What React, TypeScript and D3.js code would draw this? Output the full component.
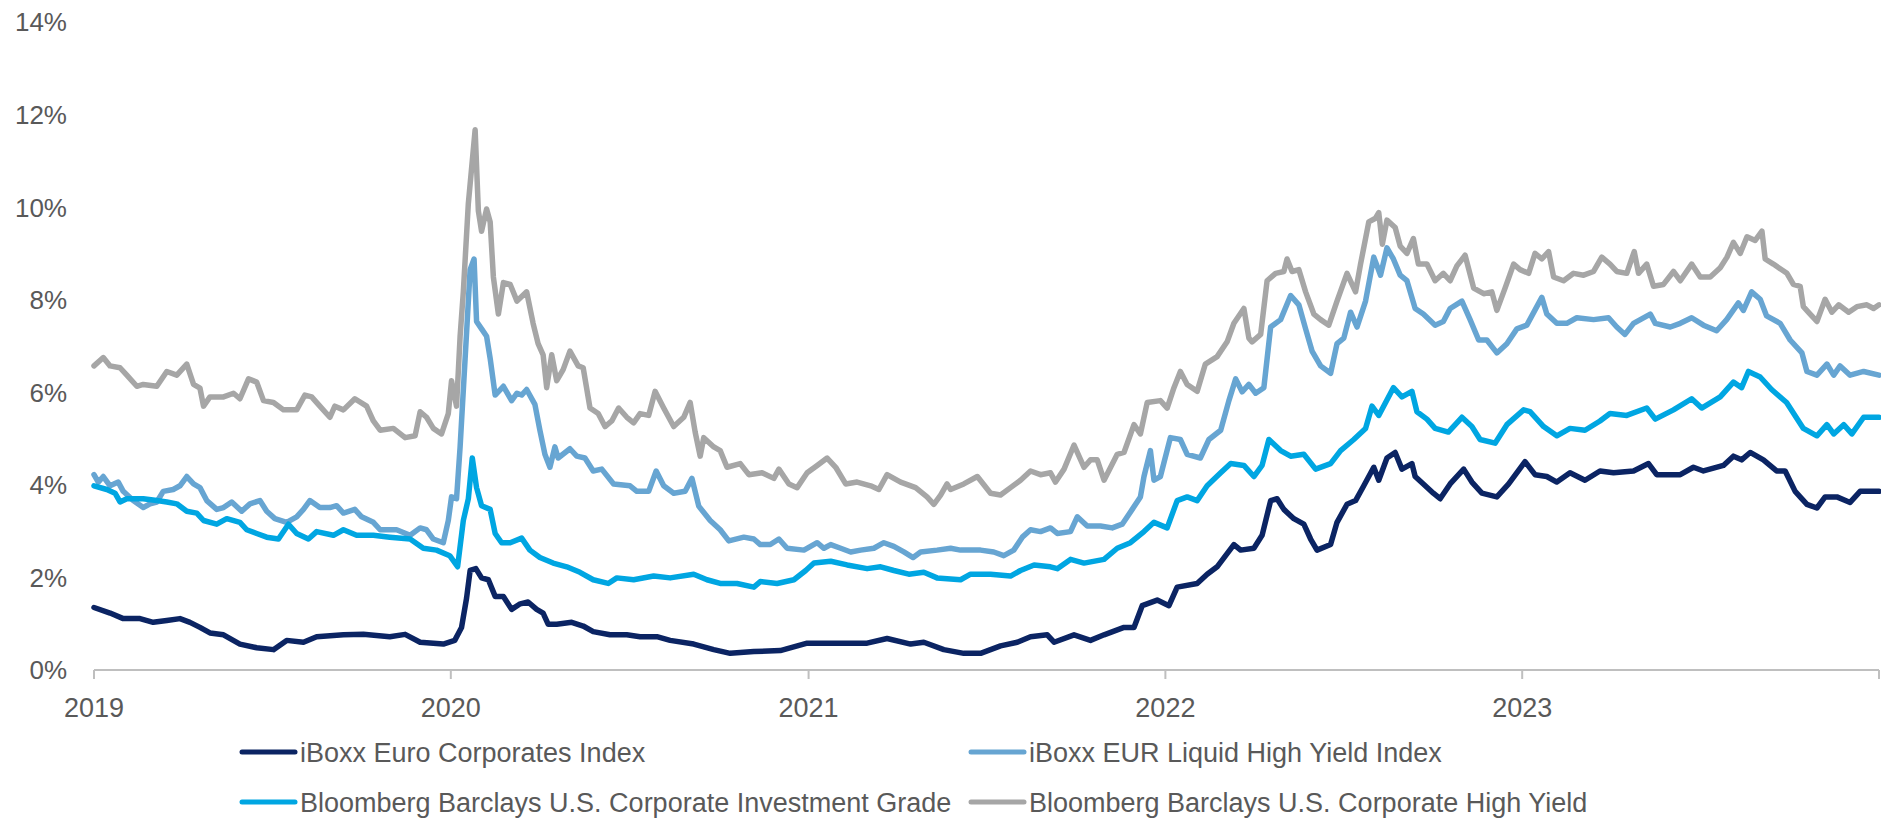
import React, { useEffect, useRef } from "react";
import * as d3 from "d3";

// values are [decimal year, yield %]
const euroCorp: [number, number][] = [
  [2019.0, 1.35], [2019.045, 1.23], [2019.082, 1.11], [2019.129, 1.11], [2019.166, 1.03], [2019.204, 1.07],
  [2019.241, 1.11], [2019.269, 1.03], [2019.297, 0.92], [2019.325, 0.8], [2019.363, 0.76], [2019.409, 0.56],
  [2019.456, 0.48], [2019.503, 0.44], [2019.54, 0.64], [2019.587, 0.6], [2019.624, 0.72], [2019.699, 0.76],
  [2019.755, 0.77], [2019.829, 0.72], [2019.872, 0.77], [2019.914, 0.6], [2019.979, 0.56], [2020.011, 0.64],
  [2020.03, 0.92], [2020.044, 1.55], [2020.054, 2.15], [2020.07, 2.19], [2020.086, 1.99], [2020.105, 1.95],
  [2020.124, 1.59], [2020.147, 1.59], [2020.17, 1.31], [2020.194, 1.43], [2020.216, 1.47], [2020.24, 1.31],
  [2020.258, 1.23], [2020.272, 0.99], [2020.296, 0.99], [2020.338, 1.03], [2020.37, 0.95], [2020.398, 0.83],
  [2020.445, 0.76], [2020.492, 0.76], [2020.529, 0.72], [2020.576, 0.72], [2020.613, 0.64], [2020.679, 0.56],
  [2020.735, 0.44], [2020.781, 0.36], [2020.847, 0.4], [2020.921, 0.42], [2020.996, 0.58], [2021.08, 0.58],
  [2021.164, 0.58], [2021.22, 0.68], [2021.286, 0.56], [2021.323, 0.6], [2021.379, 0.44], [2021.435, 0.36],
  [2021.482, 0.36], [2021.538, 0.52], [2021.585, 0.6], [2021.622, 0.72], [2021.669, 0.76], [2021.688, 0.6],
  [2021.744, 0.76], [2021.79, 0.64], [2021.828, 0.76], [2021.884, 0.92], [2021.912, 0.92], [2021.935, 1.39],
  [2021.977, 1.51], [2022.01, 1.39], [2022.033, 1.79], [2022.089, 1.87], [2022.117, 2.07], [2022.145, 2.23],
  [2022.192, 2.71], [2022.211, 2.59], [2022.248, 2.63], [2022.271, 2.91], [2022.295, 3.66], [2022.313, 3.7],
  [2022.332, 3.47], [2022.36, 3.27], [2022.388, 3.15], [2022.407, 2.83], [2022.425, 2.59], [2022.463, 2.71],
  [2022.481, 3.19], [2022.509, 3.58], [2022.533, 3.66], [2022.556, 3.98], [2022.584, 4.38], [2022.598, 4.1],
  [2022.621, 4.58], [2022.644, 4.7], [2022.663, 4.34], [2022.691, 4.46], [2022.7, 4.18], [2022.723, 4.02],
  [2022.751, 3.82], [2022.77, 3.7], [2022.798, 4.02], [2022.836, 4.34], [2022.859, 4.06], [2022.887, 3.82],
  [2022.929, 3.74], [2022.962, 4.02], [2023.008, 4.5], [2023.036, 4.22], [2023.069, 4.18], [2023.097, 4.06],
  [2023.134, 4.26], [2023.176, 4.1], [2023.218, 4.3], [2023.256, 4.26], [2023.312, 4.3], [2023.354, 4.46],
  [2023.377, 4.22], [2023.443, 4.22], [2023.48, 4.38], [2023.508, 4.3], [2023.564, 4.42], [2023.592, 4.62],
  [2023.615, 4.54], [2023.639, 4.7], [2023.676, 4.54], [2023.713, 4.3], [2023.737, 4.3], [2023.765, 3.86],
  [2023.798, 3.58], [2023.826, 3.5], [2023.849, 3.74], [2023.882, 3.74], [2023.919, 3.62], [2023.947, 3.86],
  [2024.0, 3.86],
];

const eurHighYield: [number, number][] = [
  [2019.0, 4.22], [2019.012, 4.06], [2019.026, 4.18], [2019.045, 3.98], [2019.068, 4.06], [2019.082, 3.86],
  [2019.11, 3.66], [2019.138, 3.51], [2019.157, 3.59], [2019.176, 3.63], [2019.194, 3.86], [2019.222, 3.9],
  [2019.241, 3.98], [2019.26, 4.18], [2019.279, 4.02], [2019.297, 3.94], [2019.316, 3.66], [2019.344, 3.47],
  [2019.363, 3.51], [2019.386, 3.63], [2019.414, 3.43], [2019.437, 3.59], [2019.465, 3.66], [2019.484, 3.43],
  [2019.507, 3.27], [2019.54, 3.19], [2019.568, 3.31], [2019.587, 3.47], [2019.605, 3.66], [2019.633, 3.51],
  [2019.661, 3.51], [2019.68, 3.55], [2019.699, 3.39], [2019.731, 3.47], [2019.75, 3.31], [2019.783, 3.19],
  [2019.802, 3.03], [2019.848, 3.03], [2019.886, 2.91], [2019.914, 3.07], [2019.932, 3.03], [2019.951, 2.83],
  [2019.979, 2.75], [2019.993, 3.23], [2020.002, 3.74], [2020.016, 3.7], [2020.026, 4.82], [2020.04, 6.73],
  [2020.054, 8.65], [2020.065, 8.88], [2020.072, 7.53], [2020.086, 7.37], [2020.1, 7.21], [2020.11, 6.73],
  [2020.124, 5.94], [2020.147, 6.13], [2020.17, 5.82], [2020.185, 5.98], [2020.198, 5.94], [2020.212, 6.06],
  [2020.235, 5.74], [2020.249, 5.18], [2020.263, 4.66], [2020.277, 4.38], [2020.291, 4.82], [2020.3, 4.58],
  [2020.333, 4.78], [2020.352, 4.62], [2020.375, 4.58], [2020.398, 4.3], [2020.422, 4.34], [2020.455, 4.02],
  [2020.501, 3.98], [2020.52, 3.86], [2020.553, 3.86], [2020.574, 4.3], [2020.595, 3.98], [2020.623, 3.82],
  [2020.655, 3.86], [2020.674, 4.14], [2020.693, 3.54], [2020.725, 3.23], [2020.753, 3.03], [2020.777, 2.79],
  [2020.819, 2.87], [2020.847, 2.83], [2020.865, 2.71], [2020.893, 2.71], [2020.917, 2.83], [2020.94, 2.63],
  [2020.987, 2.59], [2021.024, 2.75], [2021.043, 2.63], [2021.062, 2.71], [2021.09, 2.63], [2021.118, 2.55],
  [2021.146, 2.59], [2021.183, 2.63], [2021.211, 2.75], [2021.239, 2.67], [2021.267, 2.55], [2021.293, 2.43],
  [2021.314, 2.55], [2021.36, 2.59], [2021.398, 2.63], [2021.426, 2.59], [2021.482, 2.59], [2021.519, 2.55],
  [2021.547, 2.47], [2021.575, 2.59], [2021.599, 2.87], [2021.622, 3.03], [2021.65, 2.99], [2021.678, 3.07],
  [2021.697, 2.95], [2021.734, 2.99], [2021.753, 3.31], [2021.781, 3.11], [2021.818, 3.11], [2021.851, 3.07],
  [2021.879, 3.15], [2021.907, 3.47], [2021.93, 3.74], [2021.94, 4.18], [2021.958, 4.74], [2021.968, 4.1],
  [2021.986, 4.18], [2022.014, 5.02], [2022.042, 4.98], [2022.061, 4.66], [2022.098, 4.58], [2022.122, 4.98],
  [2022.155, 5.18], [2022.178, 5.82], [2022.197, 6.29], [2022.215, 6.01], [2022.234, 6.17], [2022.253, 5.98],
  [2022.276, 6.1], [2022.295, 7.41], [2022.323, 7.57], [2022.351, 8.09], [2022.374, 7.89], [2022.393, 7.37],
  [2022.411, 6.89], [2022.435, 6.57], [2022.463, 6.41], [2022.481, 7.05], [2022.5, 7.17], [2022.519, 7.73],
  [2022.537, 7.41], [2022.561, 7.97], [2022.584, 8.92], [2022.603, 8.53], [2022.621, 9.12], [2022.639, 8.88],
  [2022.658, 8.53], [2022.677, 8.41], [2022.7, 7.81], [2022.723, 7.69], [2022.756, 7.45], [2022.779, 7.53],
  [2022.798, 7.81], [2022.831, 7.97], [2022.854, 7.57], [2022.878, 7.13], [2022.901, 7.13], [2022.929, 6.85],
  [2022.957, 7.05], [2022.985, 7.37], [2023.013, 7.45], [2023.055, 8.05], [2023.069, 7.69], [2023.097, 7.49],
  [2023.125, 7.49], [2023.153, 7.61], [2023.2, 7.57], [2023.242, 7.61], [2023.265, 7.41], [2023.288, 7.25],
  [2023.312, 7.49], [2023.359, 7.69], [2023.373, 7.49], [2023.415, 7.41], [2023.443, 7.49], [2023.475, 7.61],
  [2023.508, 7.45], [2023.545, 7.33], [2023.573, 7.57], [2023.606, 7.93], [2023.62, 7.77], [2023.643, 8.17],
  [2023.667, 8.01], [2023.685, 7.65], [2023.723, 7.49], [2023.751, 7.13], [2023.784, 6.85], [2023.798, 6.45],
  [2023.826, 6.37], [2023.854, 6.61], [2023.873, 6.37], [2023.891, 6.57], [2023.919, 6.37], [2023.957, 6.45],
  [2024.0, 6.37],
];

const usInvestmentGrade: [number, number][] = [
  [2019.0, 3.98], [2019.036, 3.9], [2019.059, 3.82], [2019.073, 3.63], [2019.092, 3.7], [2019.138, 3.7],
  [2019.176, 3.66], [2019.204, 3.63], [2019.232, 3.59], [2019.26, 3.43], [2019.288, 3.39], [2019.307, 3.23],
  [2019.344, 3.15], [2019.372, 3.27], [2019.409, 3.19], [2019.428, 3.03], [2019.456, 2.95], [2019.484, 2.87],
  [2019.517, 2.83], [2019.545, 3.15], [2019.568, 2.95], [2019.601, 2.83], [2019.624, 2.99], [2019.671, 2.91],
  [2019.699, 3.03], [2019.736, 2.91], [2019.783, 2.91], [2019.829, 2.87], [2019.886, 2.83], [2019.923, 2.63],
  [2019.96, 2.59], [2019.997, 2.47], [2020.019, 2.23], [2020.035, 3.23], [2020.049, 3.7], [2020.06, 4.58],
  [2020.072, 3.94], [2020.086, 3.55], [2020.11, 3.47], [2020.124, 2.95], [2020.142, 2.75], [2020.166, 2.75],
  [2020.198, 2.85], [2020.221, 2.59], [2020.249, 2.43], [2020.286, 2.31], [2020.324, 2.23], [2020.361, 2.11],
  [2020.398, 1.95], [2020.44, 1.87], [2020.464, 1.99], [2020.511, 1.95], [2020.567, 2.03], [2020.613, 1.99],
  [2020.679, 2.07], [2020.716, 1.95], [2020.753, 1.87], [2020.8, 1.87], [2020.847, 1.79], [2020.865, 1.91],
  [2020.912, 1.87], [2020.959, 1.95], [2020.992, 2.15], [2021.015, 2.31], [2021.062, 2.35], [2021.108, 2.27],
  [2021.164, 2.19], [2021.202, 2.23], [2021.239, 2.15], [2021.281, 2.07], [2021.323, 2.11], [2021.36, 1.99],
  [2021.426, 1.95], [2021.454, 2.07], [2021.51, 2.07], [2021.566, 2.03], [2021.594, 2.15], [2021.632, 2.27],
  [2021.678, 2.23], [2021.697, 2.19], [2021.734, 2.39], [2021.772, 2.31], [2021.828, 2.39], [2021.865, 2.63],
  [2021.902, 2.75], [2021.94, 2.99], [2021.968, 3.19], [2022.005, 3.07], [2022.033, 3.66], [2022.061, 3.74],
  [2022.089, 3.66], [2022.117, 3.98], [2022.155, 4.26], [2022.183, 4.46], [2022.22, 4.42], [2022.248, 4.18],
  [2022.271, 4.42], [2022.29, 4.98], [2022.323, 4.74], [2022.351, 4.62], [2022.388, 4.66], [2022.421, 4.34],
  [2022.463, 4.46], [2022.491, 4.74], [2022.528, 4.98], [2022.561, 5.22], [2022.579, 5.7], [2022.598, 5.5],
  [2022.639, 6.1], [2022.663, 5.9], [2022.691, 6.02], [2022.705, 5.58], [2022.733, 5.42], [2022.756, 5.22],
  [2022.793, 5.14], [2022.831, 5.46], [2022.859, 5.26], [2022.882, 4.98], [2022.924, 4.9], [2022.957, 5.3],
  [2023.004, 5.62], [2023.022, 5.58], [2023.06, 5.26], [2023.097, 5.06], [2023.134, 5.22], [2023.176, 5.18],
  [2023.218, 5.38], [2023.246, 5.54], [2023.293, 5.5], [2023.349, 5.66], [2023.373, 5.42], [2023.424, 5.62],
  [2023.475, 5.86], [2023.503, 5.66], [2023.555, 5.9], [2023.592, 6.22], [2023.615, 6.1], [2023.634, 6.45],
  [2023.667, 6.33], [2023.699, 6.06], [2023.741, 5.78], [2023.788, 5.22], [2023.826, 5.06], [2023.854, 5.3],
  [2023.873, 5.1], [2023.901, 5.3], [2023.924, 5.1], [2023.957, 5.46], [2024.0, 5.46],
];

const usHighYield: [number, number][] = [
  [2019.0, 6.57], [2019.026, 6.75], [2019.045, 6.57], [2019.073, 6.53], [2019.092, 6.37], [2019.12, 6.13],
  [2019.138, 6.17], [2019.176, 6.13], [2019.204, 6.45], [2019.232, 6.37], [2019.26, 6.61], [2019.279, 6.17],
  [2019.297, 6.09], [2019.307, 5.7], [2019.325, 5.9], [2019.363, 5.9], [2019.391, 5.98], [2019.409, 5.86],
  [2019.433, 6.29], [2019.456, 6.22], [2019.475, 5.82], [2019.503, 5.78], [2019.531, 5.62], [2019.568, 5.62],
  [2019.591, 5.94], [2019.61, 5.9], [2019.633, 5.7], [2019.661, 5.46], [2019.675, 5.7], [2019.699, 5.62],
  [2019.731, 5.86], [2019.764, 5.7], [2019.783, 5.38], [2019.802, 5.18], [2019.839, 5.22], [2019.872, 5.02],
  [2019.9, 5.06], [2019.914, 5.58], [2019.932, 5.46], [2019.951, 5.22], [2019.974, 5.1], [2019.993, 5.54],
  [2020.002, 6.25], [2020.016, 5.7], [2020.026, 7.21], [2020.035, 8.17], [2020.049, 10.08], [2020.068, 11.67],
  [2020.077, 9.92], [2020.086, 9.48], [2020.1, 9.96], [2020.11, 9.68], [2020.119, 8.49], [2020.133, 7.69],
  [2020.147, 8.37], [2020.166, 8.33], [2020.185, 7.97], [2020.212, 8.17], [2020.23, 7.49], [2020.244, 7.05],
  [2020.258, 6.81], [2020.268, 6.1], [2020.282, 6.81], [2020.296, 6.25], [2020.314, 6.49], [2020.333, 6.89],
  [2020.356, 6.57], [2020.37, 6.53], [2020.389, 5.66], [2020.412, 5.54], [2020.431, 5.26], [2020.45, 5.38],
  [2020.469, 5.66], [2020.492, 5.46], [2020.511, 5.34], [2020.529, 5.54], [2020.553, 5.5], [2020.571, 6.02],
  [2020.595, 5.66], [2020.623, 5.26], [2020.651, 5.46], [2020.669, 5.78], [2020.683, 5.14], [2020.697, 4.62],
  [2020.707, 5.02], [2020.735, 4.82], [2020.753, 4.74], [2020.772, 4.38], [2020.809, 4.46], [2020.833, 4.22],
  [2020.87, 4.26], [2020.903, 4.14], [2020.917, 4.34], [2020.945, 4.02], [2020.968, 3.94], [2020.996, 4.26],
  [2021.024, 4.42], [2021.052, 4.58], [2021.076, 4.38], [2021.104, 4.02], [2021.136, 4.06], [2021.174, 3.98],
  [2021.197, 3.9], [2021.22, 4.22], [2021.258, 4.06], [2021.3, 3.94], [2021.332, 3.74], [2021.351, 3.58],
  [2021.37, 3.78], [2021.388, 4.02], [2021.398, 3.9], [2021.435, 4.02], [2021.473, 4.18], [2021.51, 3.82],
  [2021.538, 3.78], [2021.566, 3.94], [2021.594, 4.1], [2021.622, 4.3], [2021.65, 4.22], [2021.678, 4.26],
  [2021.692, 4.06], [2021.716, 4.34], [2021.744, 4.86], [2021.772, 4.38], [2021.79, 4.54], [2021.809, 4.54],
  [2021.828, 4.1], [2021.865, 4.66], [2021.884, 4.7], [2021.912, 5.3], [2021.93, 5.1], [2021.949, 5.78],
  [2021.986, 5.82], [2022.005, 5.66], [2022.024, 6.1], [2022.042, 6.45], [2022.061, 6.17], [2022.089, 6.02],
  [2022.112, 6.61], [2022.145, 6.77], [2022.173, 7.09], [2022.192, 7.49], [2022.22, 7.81], [2022.234, 7.17],
  [2022.243, 7.09], [2022.267, 7.25], [2022.285, 8.41], [2022.309, 8.57], [2022.332, 8.61], [2022.341, 8.88],
  [2022.355, 8.61], [2022.374, 8.65], [2022.393, 8.17], [2022.416, 7.69], [2022.435, 7.57], [2022.458, 7.45],
  [2022.481, 7.97], [2022.509, 8.57], [2022.533, 8.17], [2022.547, 8.77], [2022.57, 9.68], [2022.589, 9.76],
  [2022.598, 9.88], [2022.608, 9.2], [2022.621, 9.72], [2022.644, 9.56], [2022.658, 9.16], [2022.677, 9.0],
  [2022.695, 9.32], [2022.709, 8.77], [2022.733, 8.77], [2022.756, 8.41], [2022.779, 8.57], [2022.798, 8.41],
  [2022.817, 8.73], [2022.84, 8.96], [2022.864, 8.25], [2022.892, 8.13], [2022.915, 8.17], [2022.929, 7.77],
  [2022.952, 8.25], [2022.976, 8.77], [2022.994, 8.65], [2023.018, 8.57], [2023.036, 9.0], [2023.055, 8.88],
  [2023.074, 9.04], [2023.088, 8.49], [2023.116, 8.41], [2023.144, 8.57], [2023.172, 8.53], [2023.2, 8.61],
  [2023.223, 8.92], [2023.246, 8.77], [2023.265, 8.61], [2023.293, 8.57], [2023.314, 9.04], [2023.326, 8.57],
  [2023.349, 8.77], [2023.368, 8.29], [2023.396, 8.33], [2023.424, 8.61], [2023.443, 8.41], [2023.475, 8.77],
  [2023.499, 8.49], [2023.527, 8.49], [2023.555, 8.69], [2023.574, 8.92], [2023.592, 9.24], [2023.611, 9.0],
  [2023.63, 9.36], [2023.653, 9.28], [2023.672, 9.48], [2023.681, 8.88], [2023.704, 8.77], [2023.742, 8.57],
  [2023.76, 8.33], [2023.779, 8.29], [2023.788, 7.85], [2023.807, 7.69], [2023.826, 7.53], [2023.849, 8.01],
  [2023.868, 7.73], [2023.887, 7.89], [2023.915, 7.73], [2023.938, 7.85], [2023.966, 7.89], [2023.985, 7.81],
  [2024.0, 7.89],
];

const seriesNames = [
  "iBoxx Euro Corporates Index",
  "iBoxx EUR Liquid High Yield Index",
  "Bloomberg Barclays U.S. Corporate Investment Grade",
  "Bloomberg Barclays U.S. Corporate High Yield",
];
const seriesColors = ["#0b2463", "#67a5d2", "#00a6e2", "#a6a6a6"];
const seriesData = [euroCorp, eurHighYield, usInvestmentGrade, usHighYield];

const yTicks = [0, 2, 4, 6, 8, 10, 12, 14];
const xTickYears = [2019, 2020, 2021, 2022, 2023];

const FONT = "'Liberation Sans', Arial, sans-serif";
const TEXT = "#595959";

function toDate(t: number) {
  const y = Math.floor(t);
  const a = new Date(y, 0, 1).getTime();
  const b = new Date(y + 1, 0, 1).getTime();
  return new Date(a + (t - y) * (b - a));
}

export default function App() {
  const svgRef = useRef<SVGSVGElement>(null);

  useEffect(() => {
    const width = 1881;
    const height = 819;
    const margin = { top: 22, right: 2, bottom: 149, left: 94 };

    const svg = d3.select(svgRef.current);
    svg.selectAll("*").remove();
    svg.attr("width", width).attr("height", height);

    const x = d3
      .scaleTime()
      .domain([new Date(2019, 0, 1), new Date(2024, 0, 1)])
      .range([margin.left, width - margin.right]);

    const y = d3
      .scaleLinear()
      .domain([0, 14])
      .range([height - margin.bottom, margin.top]);

    // y labels
    svg
      .append("g")
      .selectAll("text")
      .data(yTicks)
      .enter()
      .append("text")
      .attr("x", 67)
      .attr("y", (d) => y(d))
      .attr("dy", "0.36em")
      .attr("text-anchor", "end")
      .attr("font-family", FONT)
      .attr("font-size", 26)
      .attr("fill", TEXT)
      .text((d) => `${d}%`);

    // x axis line and ticks
    const axisY = y(0);
    svg
      .append("line")
      .attr("x1", x.range()[0])
      .attr("x2", x.range()[1])
      .attr("y1", axisY)
      .attr("y2", axisY)
      .attr("stroke", "#bfbfbf")
      .attr("stroke-width", 2);

    const tickDates = [...xTickYears.map((yr) => new Date(yr, 0, 1)), new Date(2024, 0, 1)];
    svg
      .append("g")
      .selectAll("line")
      .data(tickDates)
      .enter()
      .append("line")
      .attr("x1", (d) => x(d))
      .attr("x2", (d) => x(d))
      .attr("y1", axisY)
      .attr("y2", axisY + 9)
      .attr("stroke", "#bfbfbf")
      .attr("stroke-width", 2);

    svg
      .append("g")
      .selectAll("text")
      .data(xTickYears)
      .enter()
      .append("text")
      .attr("x", (d) => x(new Date(d, 0, 1)))
      .attr("y", 707)
      .attr("dy", "0.36em")
      .attr("text-anchor", "middle")
      .attr("font-family", FONT)
      .attr("font-size", 27)
      .attr("fill", TEXT)
      .text((d) => String(d));

    // lines
    const line = d3
      .line<[number, number]>()
      .x((d) => x(toDate(d[0])))
      .y((d) => y(d[1]));

    seriesData.forEach((s, i) => {
      svg
        .append("path")
        .datum(s)
        .attr("fill", "none")
        .attr("stroke", seriesColors[i])
        .attr("stroke-width", 5.5)
        .attr("stroke-linejoin", "round")
        .attr("stroke-linecap", "round")
        .attr("d", line);
    });

    // legend
    const legendPos = [
      { x: 242, y: 752 },
      { x: 971, y: 752 },
      { x: 242, y: 802 },
      { x: 971, y: 802 },
    ];
    const legend = svg
      .append("g")
      .selectAll("g")
      .data(seriesNames)
      .enter()
      .append("g")
      .attr("transform", (_, i) => `translate(${legendPos[i].x},${legendPos[i].y})`);

    legend
      .append("line")
      .attr("x1", 0)
      .attr("x2", 53)
      .attr("stroke", (_, i) => seriesColors[i])
      .attr("stroke-width", 5)
      .attr("stroke-linecap", "round");

    legend
      .append("text")
      .attr("x", 58)
      .attr("dy", "0.36em")
      .attr("font-family", FONT)
      .attr("font-size", 27)
      .attr("fill", TEXT)
      .text((d) => d);
  }, []);

  return <svg ref={svgRef} style={{ position: "absolute", left: 0, top: 0 }}></svg>;
}
